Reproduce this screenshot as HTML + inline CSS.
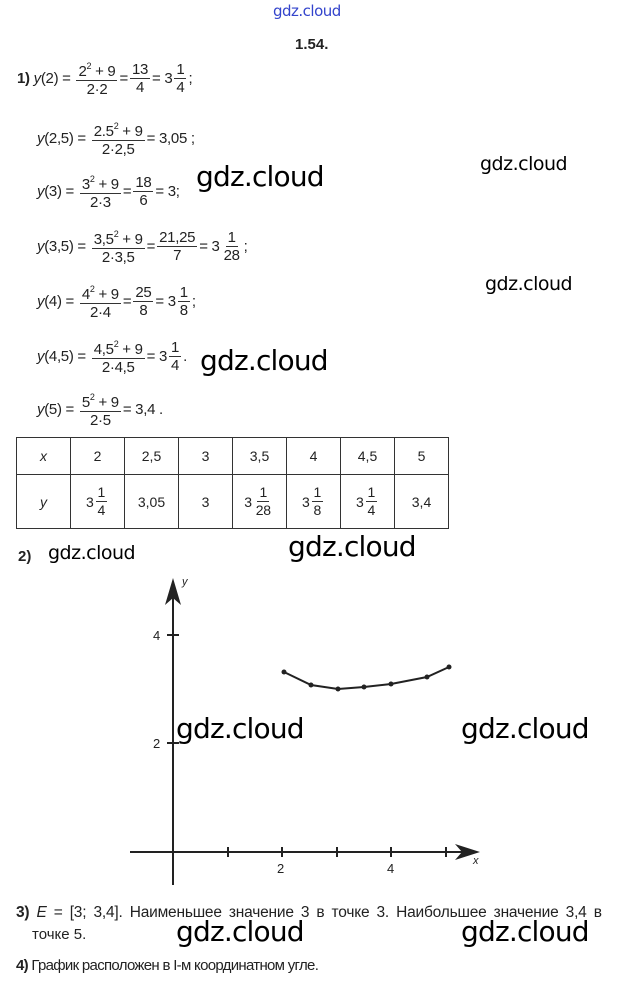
<!DOCTYPE html>
<html><head><meta charset="utf-8"><style>
body{margin:0;width:622px;height:990px;background:#fff;position:relative;overflow:hidden;font-family:"Liberation Sans",sans-serif;color:#222;font-size:15px}
.ln{position:absolute;white-space:nowrap;display:flex;align-items:center;letter-spacing:-0.3px}
.fr{display:inline-flex;flex-direction:column;align-items:center;margin:0 2px;line-height:17px}
.fr span:first-child{border-bottom:1.3px solid #333;padding:0 2px}
.fr span:last-child{padding:0 2px}
sup{font-size:9px;vertical-align:7px}
.wm{position:absolute;font-family:"DejaVu Sans",sans-serif;color:#000;letter-spacing:-0.8px}
.b{font-weight:bold}
table{position:absolute;left:16px;top:437px;border-collapse:collapse}
td{border:1.5px solid #333;text-align:center;padding:0;font-size:14px}
.abs{position:absolute}
</style></head><body>
<div class="abs" style="left:273px;top:2px;color:#3344cc;font-size:15px;font-family:'DejaVu Sans',sans-serif;letter-spacing:-0.5px">gdz.cloud</div>
<div class="abs b" style="left:295px;top:36px;font-size:15px">1.54.</div>

<div class="ln" style="left:17px;top:58px"><span class="b">1)</span>&nbsp;<i>y</i>(2) =&nbsp;<span class="fr"><span>2<sup>2</sup> + 9</span><span>2·2</span></span>=<span class="fr"><span>13</span><span>4</span></span>= 3<span class="fr"><span>1</span><span>4</span></span>;</div>
<div class="ln" style="left:37px;top:118px"><i>y</i>(2,5) =&nbsp;<span class="fr"><span>2.5<sup>2</sup> + 9</span><span>2·2,5</span></span>= 3,05 ;</div>
<div class="ln" style="left:37px;top:171px"><i>y</i>(3) =&nbsp;<span class="fr"><span>3<sup>2</sup> + 9</span><span>2·3</span></span>=<span class="fr"><span>18</span><span>6</span></span>= 3;</div>
<div class="ln" style="left:37px;top:226px"><i>y</i>(3,5) =&nbsp;<span class="fr"><span>3,5<sup>2</sup> + 9</span><span>2·3,5</span></span>=<span class="fr"><span>21,25</span><span>7</span></span>= 3<span class="fr"><span>1</span><span>28</span></span>;</div>
<div class="ln" style="left:37px;top:281px"><i>y</i>(4) =&nbsp;<span class="fr"><span>4<sup>2</sup> + 9</span><span>2·4</span></span>=<span class="fr"><span>25</span><span>8</span></span>= 3<span class="fr"><span>1</span><span>8</span></span>;</div>
<div class="ln" style="left:37px;top:336px"><i>y</i>(4,5) =&nbsp;<span class="fr"><span>4,5<sup>2</sup> + 9</span><span>2·4,5</span></span>= 3<span class="fr"><span>1</span><span>4</span></span>.</div>
<div class="ln" style="left:37px;top:389px"><i>y</i>(5) =&nbsp;<span class="fr"><span>5<sup>2</sup> + 9</span><span>2·5</span></span>= 3,4 .</div>

<div class="wm" style="left:196px;top:160px;font-size:28px">gdz.cloud</div>
<div class="wm" style="left:480px;top:153px;font-size:19px;letter-spacing:-0.5px">gdz.cloud</div>
<div class="wm" style="left:485px;top:273px;font-size:19px;letter-spacing:-0.5px">gdz.cloud</div>
<div class="wm" style="left:200px;top:344px;font-size:28px">gdz.cloud</div>

<table>
<tr style="height:37px"><td style="width:53px"><i>x</i></td><td style="width:53px">2</td><td style="width:53px">2,5</td><td style="width:53px">3</td><td style="width:53px">3,5</td><td style="width:53px">4</td><td style="width:53px">4,5</td><td style="width:53px">5</td></tr>
<tr style="height:54px"><td><i>y</i></td>
<td><span class="ln" style="position:static;display:inline-flex">3<span class="fr"><span>1</span><span>4</span></span></span></td>
<td>3,05</td><td>3</td>
<td><span class="ln" style="position:static;display:inline-flex">3<span class="fr"><span>1</span><span>28</span></span></span></td>
<td><span class="ln" style="position:static;display:inline-flex">3<span class="fr"><span>1</span><span>8</span></span></span></td>
<td><span class="ln" style="position:static;display:inline-flex">3<span class="fr"><span>1</span><span>4</span></span></span></td>
<td>3,4</td></tr>
</table>

<div class="abs b" style="left:18px;top:548px">2)</div>
<div class="wm" style="left:48px;top:542px;font-size:19px;letter-spacing:-0.5px">gdz.cloud</div>
<div class="wm" style="left:288px;top:530px;font-size:28px">gdz.cloud</div>

<svg class="abs" style="left:0;top:0" width="622" height="990">
<g stroke="#222" stroke-width="2" fill="none">
<line x1="173" y1="585" x2="173" y2="885"/>
<line x1="130" y1="852" x2="472" y2="852"/>
<line x1="167" y1="635" x2="179" y2="635"/>
<line x1="167" y1="743" x2="179" y2="743"/>
<line x1="228" y1="847" x2="228" y2="857"/>
<line x1="282" y1="847" x2="282" y2="857"/>
<line x1="337" y1="847" x2="337" y2="857"/>
<line x1="391" y1="847" x2="391" y2="857"/>
<line x1="446" y1="847" x2="446" y2="857"/>
<polyline points="284,672 311,685 338,689 364,687 391,684 427,677 449,667"/>
</g>
<polygon points="173,578 165,605 173,598 181,605" fill="#222"/>
<polygon points="480,852 455,844 462,852 455,860" fill="#222"/>
<g fill="#222"><circle cx="284" cy="672" r="2.5"/><circle cx="311" cy="685" r="2.5"/><circle cx="338" cy="689" r="2.5"/><circle cx="364" cy="687" r="2.5"/><circle cx="391" cy="684" r="2.5"/><circle cx="427" cy="677" r="2.5"/><circle cx="449" cy="667" r="2.5"/></g>
<g font-family="Liberation Sans" font-size="13" fill="#222">
<text x="182" y="585" font-style="italic" font-size="11">y</text>
<text x="153" y="640">4</text>
<text x="153" y="748">2</text>
<text x="277" y="873">2</text>
<text x="387" y="873">4</text>
<text x="473" y="864" font-style="italic" font-size="11">x</text>
</g>
</svg>
<div class="wm" style="left:176px;top:712px;font-size:28px">gdz.cloud</div>
<div class="wm" style="left:461px;top:712px;font-size:28px">gdz.cloud</div>

<div class="abs" style="left:16px;top:904px;font-size:15.5px;letter-spacing:-0.2px;word-spacing:3px;white-space:nowrap"><b>3)</b> <i>E</i> = [3; 3,4]. Наименьшее значение 3 в точке 3. Наибольшее значение 3,4 в</div>
<div class="abs" style="left:32px;top:926px;font-size:15px">точке 5.</div>
<div class="wm" style="left:176px;top:915px;font-size:28px">gdz.cloud</div>
<div class="wm" style="left:461px;top:915px;font-size:28px">gdz.cloud</div>
<div class="abs" style="left:16px;top:957px;font-size:15px;letter-spacing:-0.7px"><b>4)</b> График расположен в I-м координатном угле.</div>
</body></html>
